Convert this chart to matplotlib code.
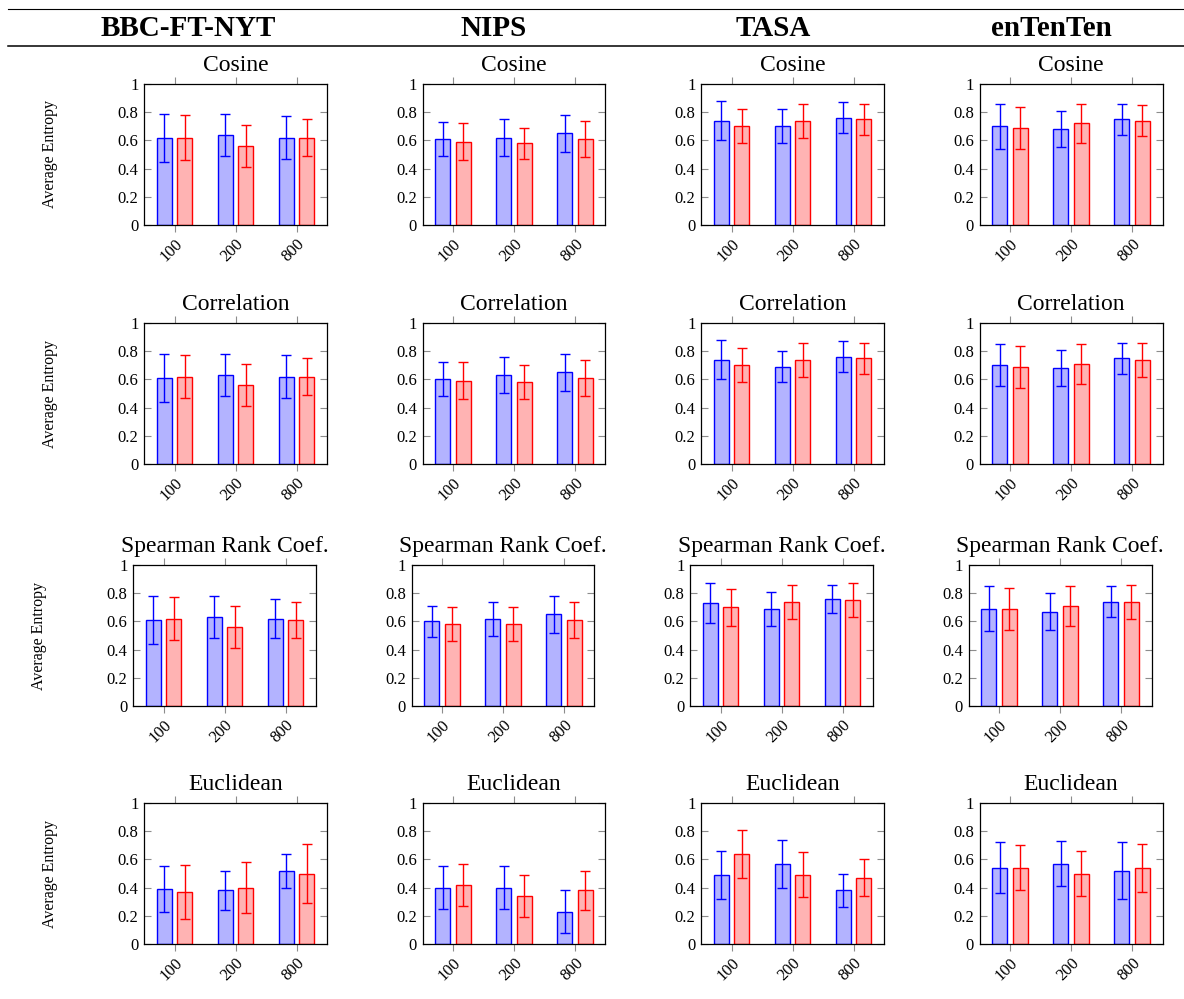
import matplotlib
matplotlib.use('Agg')
import numpy as np
from matplotlib import pyplot as plt
from matplotlib.lines import Line2D

plt.rcParams['font.family'] = ['Liberation Serif', 'DejaVu Serif']

datasets = ['BBC-FT-NYT', 'NIPS', 'TASA', 'enTenTen']
metrics = ['Cosine', 'Correlation', 'Spearman Rank Coef.', 'Euclidean']
sizes = ['100', '200', '800']

# one row per dataset, one value per size
cos_blue = [[0.62, 0.64, 0.62], [0.61, 0.62, 0.65], [0.74, 0.70, 0.76], [0.70, 0.68, 0.75]]
cos_blue_err = [[0.17, 0.15, 0.15], [0.12, 0.13, 0.13], [0.14, 0.12, 0.11], [0.16, 0.13, 0.11]]
cos_red = [[0.62, 0.56, 0.62], [0.59, 0.58, 0.61], [0.70, 0.74, 0.75], [0.69, 0.72, 0.74]]
cos_red_err = [[0.16, 0.15, 0.13], [0.13, 0.11, 0.13], [0.12, 0.12, 0.11], [0.15, 0.14, 0.11]]

corr_blue = [[0.61, 0.63, 0.62], [0.60, 0.63, 0.65], [0.74, 0.69, 0.76], [0.70, 0.68, 0.75]]
corr_blue_err = [[0.17, 0.15, 0.15], [0.12, 0.13, 0.13], [0.14, 0.11, 0.11], [0.15, 0.13, 0.11]]
corr_red = [[0.62, 0.56, 0.62], [0.59, 0.58, 0.61], [0.70, 0.74, 0.75], [0.69, 0.71, 0.74]]
corr_red_err = [[0.15, 0.15, 0.13], [0.13, 0.12, 0.13], [0.12, 0.12, 0.11], [0.15, 0.14, 0.12]]

spear_blue = [[0.61, 0.63, 0.62], [0.60, 0.62, 0.65], [0.73, 0.69, 0.76], [0.69, 0.67, 0.74]]
spear_blue_err = [[0.17, 0.15, 0.14], [0.11, 0.12, 0.13], [0.14, 0.12, 0.10], [0.16, 0.13, 0.11]]
spear_red = [[0.62, 0.56, 0.61], [0.58, 0.58, 0.61], [0.70, 0.74, 0.75], [0.69, 0.71, 0.74]]
spear_red_err = [[0.15, 0.15, 0.13], [0.12, 0.12, 0.13], [0.13, 0.12, 0.12], [0.15, 0.14, 0.12]]

eucl_blue = [[0.39, 0.38, 0.52], [0.40, 0.40, 0.23], [0.49, 0.57, 0.38], [0.54, 0.57, 0.52]]
eucl_blue_err = [[0.16, 0.14, 0.12], [0.15, 0.15, 0.15], [0.17, 0.17, 0.12], [0.18, 0.16, 0.20]]
eucl_red = [[0.37, 0.40, 0.50], [0.42, 0.34, 0.38], [0.64, 0.49, 0.47], [0.54, 0.50, 0.54]]
eucl_red_err = [[0.19, 0.18, 0.21], [0.15, 0.15, 0.14], [0.17, 0.16, 0.13], [0.16, 0.16, 0.17]]

blue_vals = [cos_blue, corr_blue, spear_blue, eucl_blue]
blue_errs = [cos_blue_err, corr_blue_err, spear_blue_err, eucl_blue_err]
red_vals = [cos_red, corr_red, spear_red, eucl_red]
red_errs = [cos_red_err, corr_red_err, spear_red_err, eucl_red_err]

W, H = 1184, 999
fig = plt.figure(figsize=(W / 100, H / 100), dpi=100)

col_left = [144, 422.5, 701, 979.5]
row_top = [84, 323, 565, 803]
row_shift = [0, 0, -11, 0]
ax_w, ax_h = 183, 141

# table-like header
fig.add_artist(Line2D([8 / W, 1], [1 - 9.3 / H] * 2, color='black', lw=0.8))
fig.add_artist(Line2D([8 / W, 1], [1 - 46 / H] * 2, color='black', lw=1.1))
for name, cx in zip(datasets, [188, 494, 773, 1051]):
    fig.text(cx / W, 1 - 28 / H, name, ha='center', va='center', fontsize=21, fontweight='bold')

x = np.arange(len(sizes))
bw = 0.25
# capsize is half the cap length in points
err_style = dict(elinewidth=1.0, capsize=3.9, capthick=1.0)
for r, metric in enumerate(metrics):
    for c in range(len(datasets)):
        left = col_left[c] + row_shift[r]
        ax = fig.add_axes([left / W, 1 - (row_top[r] + ax_h) / H, ax_w / W, ax_h / H])
        ax.bar(x - 0.17, blue_vals[r][c], bw, color='#b3b3ff', edgecolor='blue', lw=1.0,
               yerr=blue_errs[r][c], error_kw=dict(ecolor='blue', **err_style))
        ax.bar(x + 0.17, red_vals[r][c], bw, color='#ffb3b3', edgecolor='red', lw=1.0,
               yerr=red_errs[r][c], error_kw=dict(ecolor='red', **err_style))
        ax.set_xlim(-0.5, 2.5)
        ax.set_ylim(0, 1)
        ax.set_yticks([0, 0.2, 0.4, 0.6, 0.8, 1])
        ax.set_yticklabels(['0', '0.2', '0.4', '0.6', '0.8', '1'], fontsize=12)
        ax.set_xticks(x)
        ax.set_xticklabels(sizes, fontsize=12, rotation=45, ha='right', rotation_mode='anchor')
        ax.tick_params(axis='y', direction='in', left=True, right=True, length=5, color='0.55', pad=4)
        ax.tick_params(axis='x', direction='out', bottom=True, top=True, length=5, color='0.55', pad=3)
        for s in ax.spines.values():
            s.set_linewidth(0.9)
        ax.set_title(metric, fontsize=17, pad=9.5)
        if c == 0:
            fig.text((50 + row_shift[r]) / W, 1 - (row_top[r] + ax_h / 2) / H, 'Average Entropy',
                     rotation=90, ha='center', va='center', fontsize=11.5)

fig.savefig('out.png', dpi=100)
